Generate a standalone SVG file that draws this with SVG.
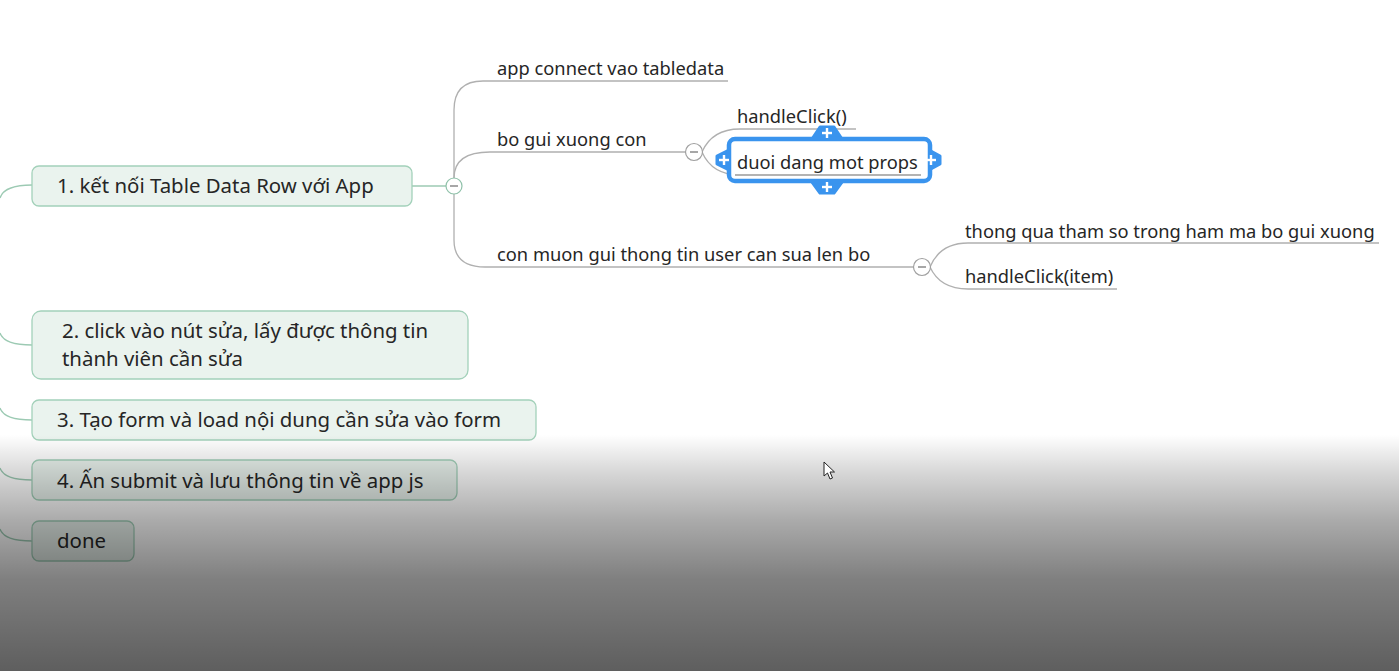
<svg xmlns="http://www.w3.org/2000/svg" width="1399" height="671" viewBox="0 0 1399 671">
<style>
.t{font-family:"Noto Sans","Open Sans","DejaVu Sans",sans-serif;font-size:20.4px;fill:#262626}
.s{font-family:"Noto Sans","Open Sans","DejaVu Sans",sans-serif;font-size:18.3px;fill:#262626}
.node{fill:#eaf3ee;stroke:#a3d1ba;stroke-width:1.3}
.gl{fill:none;stroke:#9ccab3;stroke-width:1.3}
.ln{fill:none;stroke:#b0b0b0;stroke-width:1.3}
.btn{fill:#fff;stroke:#a0a0a0;stroke-width:1.2}
.btng{fill:#fff;stroke:#8fc1a9;stroke-width:1.2}
.minus{stroke:#777;stroke-width:1.3}
.blue{fill:#3a94ee;stroke:#3a94ee;stroke-width:3;stroke-linejoin:round}
.plus{stroke:#fff;stroke-width:2.4}
</style>
<defs>
<linearGradient id="shade" x1="0" y1="0" x2="0" y2="1">
<stop offset="0" stop-color="#000" stop-opacity="0"/>
<stop offset="0.15" stop-color="#000" stop-opacity="0.15"/>
<stop offset="0.36" stop-color="#000" stop-opacity="0.33"/>
<stop offset="0.61" stop-color="#000" stop-opacity="0.5"/>
<stop offset="1" stop-color="#000" stop-opacity="0.63"/>
</linearGradient>
</defs>
<rect width="1399" height="671" fill="#ffffff"/>
<g id="connectors">
<path class="gl" d="M0,198 Q4,185 32,185"/>
<path class="gl" d="M0,333 Q4,345 32,345"/>
<path class="gl" d="M0,408 Q4,420 32,420"/>
<path class="gl" d="M0,468 Q4,480 32,480"/>
<path class="gl" d="M0,529 Q4,541 32,541"/>
<path class="gl" d="M412,186 L446,186"/>
<path class="ln" d="M454,178 L454,110 Q454,81 483,81 L728,81"/>
<path class="ln" d="M454,178 Q454,152 490,152 L685,152"/>
<path class="ln" d="M454,194 L454,240 Q454,267 485,267 L913,267"/>
<path class="ln" d="M702,152 Q712,129 740,129 L856,129"/>
<path class="ln" d="M702,152 Q712,175 740,175 L921,175"/>
<path class="ln" d="M930,267 Q940,243 968,243 L1379,243"/>
<path class="ln" d="M930,267 Q940,289 968,289 L1117,289"/>
</g>
<g id="node1">
<rect class="node" x="32" y="166" width="380" height="40" rx="7"/>
<text class="t" x="57" y="193">1. kết nối Table Data Row với App</text>
</g>
<g id="node2">
<rect class="node" x="32" y="311" width="436" height="68" rx="9"/>
<text class="t" x="62" y="338">2. click vào nút sửa, lấy được thông tin</text>
<text class="t" x="62" y="366">thành viên cần sửa</text>
</g>
<g id="node3">
<rect class="node" x="32" y="400" width="504" height="40" rx="7"/>
<text class="t" x="57" y="427">3. Tạo form và load nội dung cần sửa vào form</text>
</g>
<g id="node4">
<rect class="node" x="32" y="460" width="425" height="40" rx="7"/>
<text class="t" x="57" y="488">4. Ấn submit và lưu thông tin về app js</text>
</g>
<g id="node5">
<rect class="node" x="32" y="521" width="102" height="40" rx="7"/>
<text class="t" x="57" y="548">done</text>
</g>
<g id="btn1">
<circle class="btng" cx="454" cy="186" r="8"/>
<line class="minus" x1="450" y1="186" x2="458" y2="186"/>
</g>
<g id="topic-app">
<text class="s" x="497" y="75">app connect vao tabledata</text>
</g>
<g id="topic-bo">
<text class="s" x="497" y="146">bo gui xuong con</text>
<circle class="btn" cx="694" cy="152" r="8.5"/>
<line class="minus" x1="690" y1="152" x2="698" y2="152"/>
</g>
<g id="topic-handle">
<text class="s" x="737" y="123">handleClick()</text>
</g>
<g id="topic-props">
<polygon class="blue" points="812,139 820,127 834,127 842,139"/>
<polygon class="blue" points="812,182 820,193 834,193 842,182"/>
<polygon class="blue" points="729,150 717,156 717,164 729,170"/>
<polygon class="blue" points="929,150 940,156 940,164 929,170"/>
<rect x="729" y="139" width="201" height="42" rx="6" fill="#fff" stroke="#3a94ee" stroke-width="4.5"/>
<line class="plus" x1="822" y1="133" x2="832" y2="133"/><line class="plus" x1="827" y1="128" x2="827" y2="138"/>
<line class="plus" x1="822" y1="187" x2="832" y2="187"/><line class="plus" x1="827" y1="182" x2="827" y2="192"/>
<line class="plus" x1="719" y1="160" x2="729" y2="160"/><line class="plus" x1="724" y1="155" x2="724" y2="165"/>
<line class="plus" x1="926" y1="160" x2="936" y2="160"/><line class="plus" x1="931" y1="155" x2="931" y2="165"/>
<line x1="735" y1="175" x2="921" y2="175" stroke="#9a9a9a" stroke-width="1.3"/>
<text class="s" x="737" y="169">duoi dang mot props</text>
</g>
<g id="topic-con">
<text class="s" x="497" y="261">con muon gui thong tin user can sua len bo</text>
<circle class="btn" cx="922" cy="267" r="8.5"/>
<line class="minus" x1="918" y1="267" x2="926" y2="267"/>
</g>
<g id="topic-thong">
<text class="s" x="965" y="238">thong qua tham so trong ham ma bo gui xuong</text>
</g>
<g id="topic-item">
<text class="s" x="965" y="283">handleClick(item)</text>
</g>
<rect x="0" y="435" width="1399" height="236" fill="url(#shade)"/>
<path d="M824,462 L824,476 L827.5,473 L830,479 L832.5,478 L830,472 L834.5,472 Z" fill="#fff" stroke="#222" stroke-width="1"/>
</svg>
